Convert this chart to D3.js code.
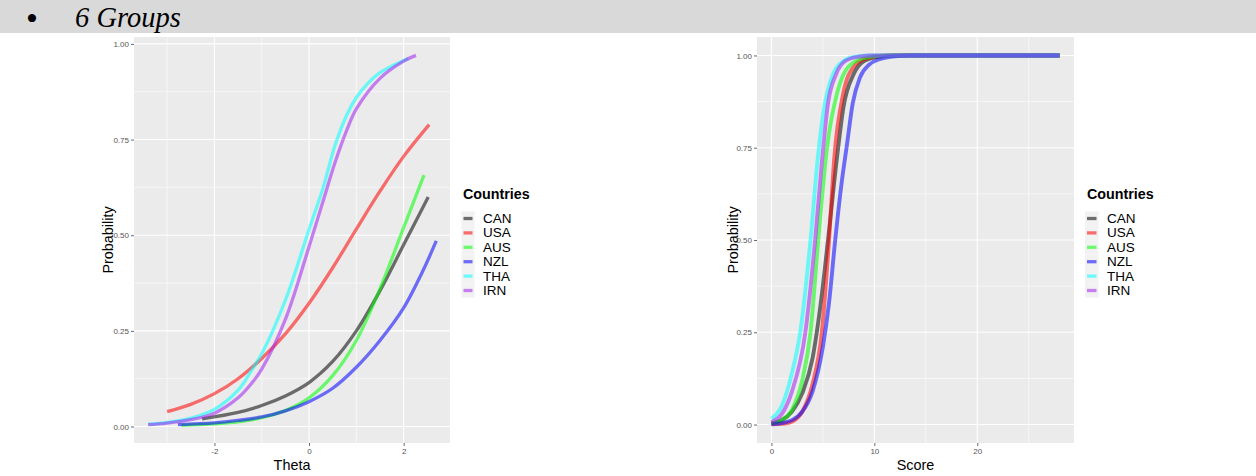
<!DOCTYPE html>
<html><head><meta charset="utf-8">
<script src="https://cdn.jsdelivr.net/npm/d3@7"></script>
<style>body{margin:0;background:#fff}</style>
</head><body>
<svg id="c" width="1256" height="476"></svg>
<script>
// ---------- data ----------
const countries = ["CAN", "USA", "AUS", "NZL", "THA", "IRN"];
const probTicks = [0, 0.25, 0.5, 0.75, 1];
const probMinor = [0.125, 0.375, 0.625, 0.875];
const thetaTicks = [-2, 0, 2];
const thetaMinor = [-3, -1, 1];
const scoreTicks = [0, 10, 20];
const scoreMinor = [5, 15, 25];

// Left panel: probability vs theta  [theta, p]
const thetaCAN = [[-2.26,0.02],[-1.5,0.037],[-1,0.055],[-0.5,0.08],[0,0.115],[0.5,0.17],[1,0.25],[1.5,0.355],[2,0.475],[2.52,0.6]];
const thetaUSA = [[-3,0.039],[-2.5,0.058],[-2,0.086],[-1.5,0.125],[-1,0.178],[-0.5,0.242],[0,0.322],[0.5,0.415],[1,0.516],[1.5,0.615],[2,0.706],[2.54,0.789]];
const thetaAUS = [[-2.7,0.003],[-2,0.007],[-1.5,0.012],[-1,0.023],[-0.5,0.042],[0,0.075],[0.5,0.133],[1,0.225],[1.5,0.36],[2,0.52],[2.43,0.657]];
const thetaNZL = [[-2.77,0.005],[-2,0.0095],[-1.5,0.016],[-1,0.025],[-0.5,0.041],[0,0.065],[0.5,0.1],[1,0.155],[1.5,0.225],[2,0.31],[2.4,0.405],[2.69,0.485]];
const thetaTHA = [[-3.4,0.006],[-3,0.011],[-2.5,0.022],[-2,0.045],[-1.5,0.095],[-1.2,0.15],[-1,0.19],[-0.5,0.33],[0,0.515],[0.3,0.625],[0.55,0.735],[0.8,0.815],[1,0.86],[1.23,0.895],[1.5,0.925],[2.1,0.962]];
const thetaIRN = [[-3.4,0.005],[-3,0.009],[-2.5,0.018],[-2,0.035],[-1.5,0.075],[-1.2,0.115],[-1,0.15],[-0.5,0.28],[0,0.47],[0.3,0.59],[0.55,0.69],[0.8,0.775],[1,0.83],[1.5,0.91],[2,0.955],[2.26,0.97]];

// Right panel: probability vs score  [score, p]
const scoreCAN = [[0,0.004],[1,0.012],[2,0.035],[3,0.085],[4,0.18],[4.8,0.33],[5.5,0.5],[6.4,0.73],[7,0.86],[8,0.95],[9,0.985],[10.5,0.997],[12,1],[28,1]];
const scoreUSA = [[0,0.0005],[1,0.002],[2,0.008],[3,0.035],[4,0.11],[4.9,0.25],[5.6,0.5],[6.1,0.72],[7,0.9],[8,0.97],[9,0.99],[10.5,0.998],[12,1],[28,1]];
const scoreAUS = [[0,0.003],[1,0.012],[2,0.04],[3,0.12],[3.8,0.25],[4.55,0.5],[5.4,0.75],[6.4,0.9],[7.5,0.97],[9,0.993],[11,1],[28,1]];
const scoreNZL = [[0,0.001],[1,0.004],[2,0.012],[3,0.035],[4,0.09],[5,0.21],[5.6,0.33],[6.2,0.5],[6.8,0.65],[7.35,0.76],[7.9,0.87],[8.6,0.94],[9.5,0.975],[10.5,0.99],[12,0.998],[13.5,1],[28,1]];
const scoreTHA = [[0,0.016],[1,0.05],[2,0.14],[2.8,0.25],[3.8,0.5],[4.5,0.72],[5.2,0.87],[6,0.95],[7,0.985],[8,0.996],[9.5,1],[28,1]];
const scoreIRN = [[0,0.007],[1,0.028],[2,0.09],[3.3,0.25],[4.25,0.5],[4.9,0.71],[5.5,0.87],[6.3,0.95],[7.2,0.985],[8.5,0.997],[10,1],[28,1]];

const thetaSeries = [thetaCAN, thetaUSA, thetaAUS, thetaNZL, thetaTHA, thetaIRN];
const scoreSeries = [scoreCAN, scoreUSA, scoreAUS, scoreNZL, scoreTHA, scoreIRN];

// ---------- style ----------
const colors = ["#000000", "#ff0000", "#00ff00", "#0000ff", "#00ffff", "#a020f0"];
const SANS = "'Liberation Sans', Arial, sans-serif";
const SERIF = "'Liberation Serif', 'Times New Roman', serif";

const svg = d3.select("#c");

// header band
svg.append("rect").attr("x", 0).attr("y", 0).attr("width", 1256).attr("height", 33).attr("fill", "#d9d9d9");
svg.append("text").attr("x", 26).attr("y", 30).attr("font-family", SERIF).attr("font-size", 34).attr("fill", "#000").text("\u2022");
svg.append("text").attr("x", 75).attr("y", 27).attr("font-family", SERIF).attr("font-style", "italic")
  .attr("font-size", 28.5).attr("fill", "#000").text("6 Groups");

function panel(cfg) {
  const x = d3.scaleLinear().domain(cfg.xDomain).range([cfg.left, cfg.right]);
  const y = d3.scaleLinear().domain(cfg.yDomain).range([cfg.bottom, cfg.top]);
  const g = svg.append("g");
  g.append("rect").attr("x", cfg.left).attr("y", cfg.top)
    .attr("width", cfg.right - cfg.left).attr("height", cfg.bottom - cfg.top).attr("fill", "#ebebeb");
  // minor grid
  g.selectAll(".vmin").data(cfg.xMinor).join("line")
    .attr("x1", d => x(d)).attr("x2", d => x(d)).attr("y1", cfg.top).attr("y2", cfg.bottom)
    .attr("stroke", "#fff").attr("stroke-width", 0.6);
  g.selectAll(".hmin").data(probMinor).join("line")
    .attr("y1", d => y(d)).attr("y2", d => y(d)).attr("x1", cfg.left).attr("x2", cfg.right)
    .attr("stroke", "#fff").attr("stroke-width", 0.6);
  // major grid
  g.selectAll(".vmaj").data(cfg.xTicks).join("line")
    .attr("x1", d => x(d)).attr("x2", d => x(d)).attr("y1", cfg.top).attr("y2", cfg.bottom)
    .attr("stroke", "#fff").attr("stroke-width", 1.1);
  g.selectAll(".hmaj").data(probTicks).join("line")
    .attr("y1", d => y(d)).attr("y2", d => y(d)).attr("x1", cfg.left).attr("x2", cfg.right)
    .attr("stroke", "#fff").attr("stroke-width", 1.1);

  // curves
  const line = d3.line().x(d => x(d[0])).y(d => y(d[1])).curve(cfg.curve);
  cfg.series.forEach((s, i) => {
    g.append("path").attr("d", line(s)).attr("fill", "none")
      .attr("stroke", colors[i]).attr("stroke-opacity", 0.55)
      .attr("stroke-width", cfg.lw).attr("stroke-linecap", "butt");
  });

  // axes
  const ax = g.append("g").attr("transform", `translate(0,${cfg.bottom})`)
    .call(d3.axisBottom(x).tickValues(cfg.xTicks).tickSize(3).tickPadding(2).tickFormat(d => String(d)));
  const ay = g.append("g").attr("transform", `translate(${cfg.left},0)`)
    .call(d3.axisLeft(y).tickValues(probTicks).tickSize(3).tickPadding(2).tickFormat(d3.format(".2f")));
  [ax, ay].forEach(a => {
    a.select(".domain").remove();
    a.selectAll(".tick line").attr("stroke", "#444").attr("stroke-width", 0.8);
    a.selectAll(".tick text").attr("fill", "#555").attr("font-size", 8).attr("font-family", SANS);
  });

  // titles
  g.append("text").attr("x", (cfg.left + cfg.right) / 2).attr("y", 469.5).attr("text-anchor", "middle")
    .attr("font-family", SANS).attr("font-size", 14.4).attr("fill", "#000").text(cfg.xTitle);
  g.append("text").attr("transform", `translate(${cfg.yTitleX},${(cfg.top + cfg.bottom) / 2}) rotate(-90)`)
    .attr("text-anchor", "middle").attr("font-family", SANS).attr("font-size", 14.4).attr("fill", "#000").text("Probability");

  // legend
  const lg = g.append("g");
  lg.append("text").attr("x", cfg.legX).attr("y", 199).attr("font-family", SANS).attr("font-weight", "bold")
    .attr("font-size", 14.3).attr("fill", "#000").text("Countries");
  countries.forEach((c, i) => {
    const by = 223 + i * 14.4;
    lg.append("rect").attr("x", cfg.keyX - 2).attr("y", by - 11.7).attr("width", cfg.keyW + 4).attr("height", 14.4)
      .attr("fill", "#f2f2f2");
    lg.append("line").attr("x1", cfg.keyX).attr("x2", cfg.keyX + cfg.keyW)
      .attr("y1", by - 4.5).attr("y2", by - 4.5)
      .attr("stroke", colors[i]).attr("stroke-opacity", 0.55).attr("stroke-width", 3.3);
    lg.append("text").attr("x", cfg.textX).attr("y", by).attr("font-family", SANS)
      .attr("font-size", 13.5).attr("fill", "#000").text(c);
  });
}

panel({
  left: 134, right: 450, top: 37, bottom: 443,
  xDomain: [-3.70, 2.98], yDomain: [-0.043, 1.018],
  xTicks: thetaTicks, xMinor: thetaMinor, series: thetaSeries,
  xTitle: "Theta", yTitleX: 113, lw: 3.3, curve: d3.curveCatmullRom.alpha(0.5),
  legX: 463, keyX: 463.5, keyW: 9, textX: 483
});

panel({
  left: 757, right: 1074, top: 37, bottom: 443,
  xDomain: [-1.4, 29.4], yDomain: [-0.05, 1.05],
  xTicks: scoreTicks, xMinor: scoreMinor, series: scoreSeries,
  xTitle: "Score", yTitleX: 738, lw: 3.9, curve: d3.curveMonotoneX,
  legX: 1087, keyX: 1087, keyW: 9.5, textX: 1107
});
</script>
</body></html>
